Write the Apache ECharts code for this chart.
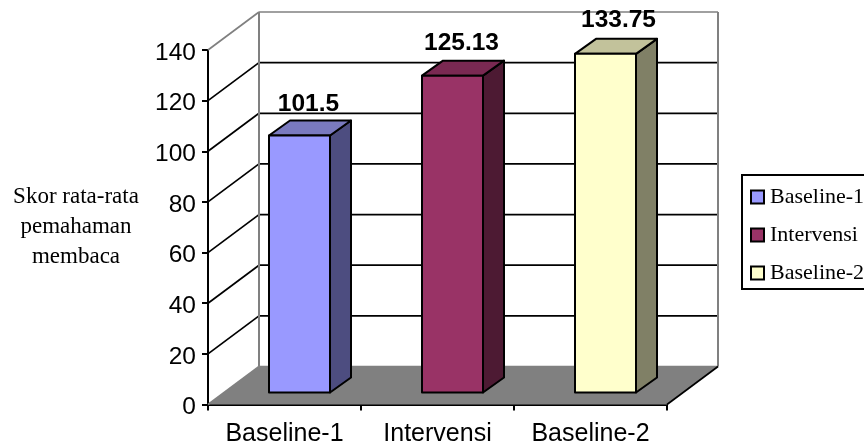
<!DOCTYPE html>
<html>
<head>
<meta charset="utf-8">
<style>html,body{margin:0;padding:0;background:#fff}#chart{width:864px;height:446px}</style>
<script src="https://cdn.jsdelivr.net/npm/echarts@6/dist/echarts.min.js"></script>
</head>
<body>
<div id="chart"></div>
<script>
// Reading-comprehension scores per study phase
const categories = ['Baseline-1', 'Intervensi', 'Baseline-2'];
const scores = [101.5, 125.13, 133.75];
const valueTicks = [0, 20, 40, 60, 80, 100, 120, 140];
const yAxisTitle = 'Skor rata-rata\npemahaman\nmembaca';

// Colours of each column: front, side and top faces
const frontColors = ['#9999FF', '#993366', '#FFFFCC'];
const sideColors = ['#4D4D80', '#4D1A33', '#808066'];
const topColors = ['#7A7ABF', '#7A2952', '#C2C29B'];

// Oblique projection of the chart box and of the columns inside it
const WALL_DX = 51, WALL_DY = -38;
const BAR_NEAR_DX = 15, BAR_NEAR_DY = -12;
const BAR_DEPTH_DX = 21, BAR_DEPTH_DY = -15;
const BAR_WIDTH = 61;

// Placement of each value label relative to the top front edge of its column
const LABEL_SHIFT_X = [9, 9, 13];
const LABEL_SHIFT_Y = [-19, -19.5, -21];

const LINE = '#000';
const WALL_LINE = '#808080';
const SANS = '"Liberation Sans", Arial, sans-serif';
const SERIF = '"Liberation Serif", "Times New Roman", serif';

function line(x1, y1, x2, y2, stroke, width) {
  return { type: 'line', shape: { x1, y1, x2, y2 }, style: { stroke, lineWidth: width } };
}
function poly(points, fill, stroke, width) {
  return { type: 'polygon', shape: { points }, style: { fill, stroke, lineWidth: width, lineJoin: 'round' } };
}

// Floor, side wall and back wall with their gridlines
function renderBox(params, api) {
  const rect = params.coordSys;
  const left = rect.x, right = rect.x + rect.width;
  const children = [];
  const y0 = api.coord([0, 0])[1];
  children.push(poly([[left, y0], [right, y0], [right + WALL_DX, y0 + WALL_DY], [left + WALL_DX, y0 + WALL_DY]], '#808080', 'none', 0));
  valueTicks.forEach(function (v, i) {
    const y = api.coord([0, v])[1];
    const edge = i === 0 || i === valueTicks.length - 1;
    children.push(line(left, y, left + WALL_DX, y + WALL_DY, edge ? WALL_LINE : LINE, 1.7));
    children.push(line(left + WALL_DX, y + WALL_DY, right + WALL_DX, y + WALL_DY, edge ? WALL_LINE : LINE, 1.7));
  });
  const top = api.coord([0, valueTicks[valueTicks.length - 1]])[1];
  children.push(line(left + WALL_DX, top + WALL_DY, left + WALL_DX, y0 + WALL_DY, WALL_LINE, 2));
  children.push(line(right + WALL_DX, top + WALL_DY, right + WALL_DX, y0 + WALL_DY, WALL_LINE, 2));
  children.push(line(right, y0, right + WALL_DX, y0 + WALL_DY, LINE, 1.7));
  return { type: 'group', children };
}

// One column: front, side and top faces plus its value label
function renderColumn(idx) {
  return function (params, api) {
    const topPt = api.coord([api.value(0), api.value(1)]);
    const basePt = api.coord([api.value(0), 0]);
    const xl = topPt[0] + BAR_NEAR_DX - BAR_WIDTH / 2;
    const xr = xl + BAR_WIDTH;
    const yt = topPt[1] + BAR_NEAR_DY;
    const yb = basePt[1] + BAR_NEAR_DY;
    const dx = BAR_DEPTH_DX, dy = BAR_DEPTH_DY;
    return {
      type: 'group',
      children: [
        poly([[xr, yt], [xr + dx, yt + dy], [xr + dx, yb + dy], [xr, yb]], sideColors[idx], LINE, 2),
        poly([[xl, yt], [xl + dx, yt + dy], [xr + dx, yt + dy], [xr, yt]], topColors[idx], LINE, 2),
        poly([[xl, yt], [xr, yt], [xr, yb], [xl, yb]], frontColors[idx], LINE, 2),
        {
          type: 'text',
          style: {
            x: xl + BAR_WIDTH / 2 + LABEL_SHIFT_X[idx], y: yt + LABEL_SHIFT_Y[idx],
            text: String(api.value(1)),
            font: 'bold 24.5px ' + SANS,
            fill: '#000', align: 'center', verticalAlign: 'bottom'
          }
        }
      ]
    };
  };
}

const columnSeries = categories.map(function (name, i) {
  return {
    type: 'custom',
    name: name,
    renderItem: renderColumn(i),
    itemStyle: { color: frontColors[i], borderColor: '#000', borderWidth: 2 },
    encode: { x: 0, y: 1 },
    data: [[i, scores[i]]],
    z: 3
  };
});

const chart = echarts.init(document.getElementById('chart'), null, { renderer: 'canvas' });
chart.setOption({
  animation: false,
  backgroundColor: '#fff',
  grid: { left: 208, top: 50, width: 459, height: 354.5, containLabel: false, outerBoundsMode: 'none' },
  xAxis: {
    type: 'category',
    data: categories,
    boundaryGap: true,
    axisLine: { lineStyle: { color: '#000', width: 2 } },
    axisTick: { show: true, interval: 0, length: 6, lineStyle: { color: '#000', width: 2 } },
    axisLabel: { interval: 0, hideOverlap: false, color: '#000', fontSize: 25, fontFamily: SANS, margin: 17 }
  },
  yAxis: {
    type: 'value',
    min: 0, max: 140, interval: 20,
    name: yAxisTitle,
    nameLocation: 'middle',
    nameRotate: 0,
    nameGap: 132,
    nameTextStyle: { color: '#000', fontSize: 23, lineHeight: 30, fontFamily: SERIF, align: 'center', verticalAlign: 'middle', padding: [9, 0, 0, 0] },
    axisLine: { show: true, lineStyle: { color: '#000', width: 2 } },
    axisTick: { show: true, length: 6, lineStyle: { color: '#000', width: 2 } },
    splitLine: { show: false },
    axisLabel: { color: '#000', fontSize: 24.5, fontFamily: SANS, margin: 12, verticalAlign: 'top', lineHeight: 6 }
  },
  legend: {
    orient: 'vertical',
    left: 742, top: 175,
    data: categories,
    padding: [11, 40, 5, 8],
    itemWidth: 13, itemHeight: 13, itemGap: 16,
    borderColor: '#000', borderWidth: 2,
    icon: 'rect',
    selectedMode: false,
    textStyle: { color: '#000', fontSize: 22, fontFamily: SERIF, padding: [0, 0, 0, 1] },
    itemStyle: { borderColor: '#000', borderWidth: 2 }
  },
  series: [{
    type: 'custom',
    name: 'box',
    renderItem: renderBox,
    silent: true,
    data: [[0, 0]],
    z: 1
  }].concat(columnSeries)
});
</script>
</body>
</html>
